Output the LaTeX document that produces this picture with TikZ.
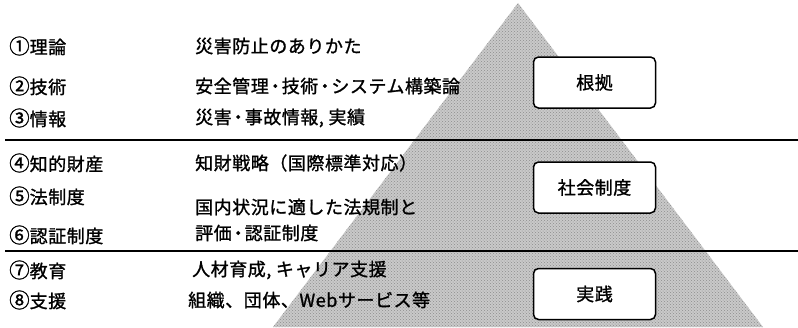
\documentclass[tikz,border=0pt]{standalone}
\usepackage{fontspec}
\setmainfont{Noto Sans CJK JP}[LetterSpace=3,FakeBold=1.2]
\usetikzlibrary{patterns}
\newcommand{\cnum}[1]{{\fontsize{20.5}{20}\selectfont #1}}
\newcommand{\md}{\kern-2.5pt・\kern-2.5pt}
\begin{document}
\begin{tikzpicture}[x=1pt,y=-1pt,
  lbl/.style={anchor=west,inner sep=0pt,font=\fontsize{18}{19}\selectfont},
  tagbox/.style={draw=black,line width=1.5pt,rounded corners=5pt,fill=white,minimum width=122pt,minimum height=51pt,inner sep=0pt,font=\fontsize{18}{19}\selectfont},
  rule/.style={line width=2pt,black}]
\useasboundingbox (0,0) rectangle (798,327);
% pyramid
\coordinate (apex) at (518,3);
\coordinate (bl) at (273,327);
\coordinate (br) at (763,327);
\fill[gray!42] (apex) -- (br) -- (bl) -- cycle;
\fill[pattern=crosshatch dots,pattern color=gray!90] (apex) -- (br) -- (bl) -- cycle;
% rules
\coordinate (r1a) at (5,140);
\coordinate (r1b) at (798,140);
\coordinate (r2a) at (5,251);
\coordinate (r2b) at (798,251);
\draw[rule] (r1a) -- (r1b);
\draw[rule] (r2a) -- (r2b);
% boxes
\node[tagbox] (b1) at (594.5,82.5) {根拠};
\node[tagbox] (b2) at (594.5,187.5) {社会制度};
\node[tagbox] (b3) at (594.5,294) {実践};
% left column
\node[lbl] (l1) at (9,46) {\cnum{①}理論};
\node[lbl] (l2) at (9,86) {\cnum{②}技術};
\node[lbl] (l3) at (9,118) {\cnum{③}情報};
\node[lbl] (l4) at (9,163) {\cnum{④}知的財産};
\node[lbl] (l5) at (9,196) {\cnum{⑤}法制度};
\node[lbl] (l6) at (9,235) {\cnum{⑥}認証制度};
\node[lbl] (l7) at (9,270) {\cnum{⑦}教育};
\node[lbl] (l8) at (9,300) {\cnum{⑧}支援};
% right column
\node[lbl] (d1) at (195,46) {災害防止のありかた};
\node[lbl] (d2) at (195,86) {安全管理\md 技術\md システム構築論};
\node[lbl] (d3) at (195,118) {災害\md 事故情報, 実績};
\node[lbl] (d4) at (195,163) {知財戦略（国際標準対応）};
\node[lbl] (d5) at (195,207) {国内状況に適した法規制と};
\node[lbl] (d6) at (195,233) {評価\md 認証制度};
\node[lbl] (d7) at (192,270) {人材育成, キャリア支援};
\node[lbl] (d8) at (188,300) {組織、団体、Webサービス等};
\end{tikzpicture}
\end{document}
